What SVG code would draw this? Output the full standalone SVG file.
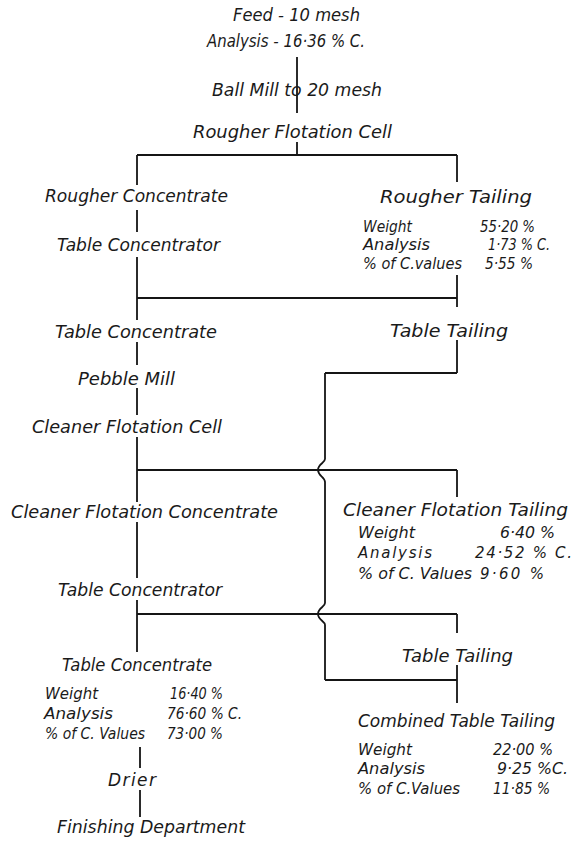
<svg xmlns="http://www.w3.org/2000/svg" width="576" height="841" viewBox="0 0 576 841">
<style>
  .t { font-family: "DejaVu Sans", "Liberation Sans", sans-serif; font-style: italic; font-size: 17px; fill: #1a1a1a; }
  .d { font-family: "DejaVu Sans", "Liberation Sans", sans-serif; font-style: italic; font-size: 15px; fill: #1a1a1a; }
  .c { fill: none; stroke: #151515; stroke-width: 1.8; stroke-linecap: butt; }
</style>
<rect width="576" height="841" fill="#ffffff"/>

<g id="connectors">
  <path class="c" d="M297,57 V113 M297,142 V155"/>
  <path class="c" d="M137,155 H457"/>
  <path class="c" d="M137,155 V185 M137,210 V232 M137,257 V320 M137,342 V365 M137,388 V415 M137,437 V502 M137,522 V578 M137,600 V652"/>
  <path class="c" d="M137,298 H457"/>
  <path class="c" d="M457,155 V182 M457,275 V307 M457,340 V373"/>
  <path class="c" d="M457,373 H325"/>
  <path class="c" d="M325,373 V459 C325,463 318,464 318,470 C318,476 325,477 325,482 V603 C325,607 318,608 318,614 C318,620 325,621 325,625 V680"/>
  <path class="c" d="M137,470 H457 M457,470 V497"/>
  <path class="c" d="M137,614 H457 M457,614 V633 M457,665 V703"/>
  <path class="c" d="M325,680 H457"/>
  <path class="c" d="M140,747 V768 M140,790 V817"/>
</g>

<g id="feed"><text class="t" x="233" y="21" textLength="127" lengthAdjust="spacingAndGlyphs">Feed - 10 mesh</text></g>
<g id="feed-analysis"><text class="t" x="207" y="47" textLength="158" lengthAdjust="spacingAndGlyphs">Analysis - 16·36 % C.</text></g>
<g id="ball-mill"><text class="t" x="212" y="96" textLength="170" lengthAdjust="spacingAndGlyphs">Ball Mill to 20 mesh</text></g>
<g id="rougher-cell"><text class="t" x="193" y="138" textLength="199" lengthAdjust="spacingAndGlyphs">Rougher Flotation Cell</text></g>

<g id="rougher-concentrate"><text class="t" x="45" y="202" textLength="183" lengthAdjust="spacingAndGlyphs">Rougher Concentrate</text></g>
<g id="table-concentrator-1"><text class="t" x="57" y="251" textLength="163" lengthAdjust="spacingAndGlyphs">Table Concentrator</text></g>
<g id="table-concentrate-1"><text class="t" x="55" y="338" textLength="162" lengthAdjust="spacingAndGlyphs">Table Concentrate</text></g>
<g id="pebble-mill"><text class="t" x="78" y="385" textLength="97" lengthAdjust="spacingAndGlyphs">Pebble Mill</text></g>
<g id="cleaner-cell"><text class="t" x="32" y="433" textLength="190" lengthAdjust="spacingAndGlyphs">Cleaner Flotation Cell</text></g>
<g id="cleaner-concentrate"><text class="t" x="11" y="518" textLength="267" lengthAdjust="spacingAndGlyphs">Cleaner Flotation Concentrate</text></g>
<g id="table-concentrator-2"><text class="t" x="58" y="596" textLength="164" lengthAdjust="spacingAndGlyphs">Table Concentrator</text></g>
<g id="table-concentrate-2">
  <text class="t" x="62" y="671" textLength="150" lengthAdjust="spacingAndGlyphs">Table Concentrate</text>
  <text class="d" x="45" y="699" textLength="53" lengthAdjust="spacingAndGlyphs">Weight</text>
  <text class="d" x="170" y="699" textLength="53" lengthAdjust="spacingAndGlyphs">16·40 %</text>
  <text class="d" x="44" y="719" textLength="69" lengthAdjust="spacingAndGlyphs">Analysis</text>
  <text class="d" x="167" y="719" textLength="75" lengthAdjust="spacingAndGlyphs">76·60 % C.</text>
  <text class="d" x="45" y="739" textLength="100" lengthAdjust="spacingAndGlyphs">% of C. Values</text>
  <text class="d" x="167" y="739" textLength="56" lengthAdjust="spacingAndGlyphs">73·00 %</text>
</g>
<g id="drier"><text class="t" x="108" y="786" textLength="48" lengthAdjust="spacing">Drier</text></g>
<g id="finishing"><text class="t" x="57" y="833" textLength="188" lengthAdjust="spacingAndGlyphs">Finishing Department</text></g>

<g id="rougher-tailing">
  <text class="t" x="380" y="203" textLength="152" lengthAdjust="spacingAndGlyphs">Rougher Tailing</text>
  <text class="d" x="363" y="232" textLength="49" lengthAdjust="spacingAndGlyphs">Weight</text>
  <text class="d" x="480" y="232" textLength="55" lengthAdjust="spacingAndGlyphs">55·20 %</text>
  <text class="d" x="363" y="250" textLength="67" lengthAdjust="spacingAndGlyphs">Analysis</text>
  <text class="d" x="488" y="250" textLength="62" lengthAdjust="spacingAndGlyphs">1·73 % C.</text>
  <text class="d" x="363" y="269" textLength="99" lengthAdjust="spacingAndGlyphs">% of C.values</text>
  <text class="d" x="485" y="269" textLength="48" lengthAdjust="spacingAndGlyphs">5·55 %</text>
</g>
<g id="table-tailing-1"><text class="t" x="390" y="337" textLength="118" lengthAdjust="spacingAndGlyphs">Table Tailing</text></g>
<g id="cleaner-tailing">
  <text class="t" x="343" y="516" textLength="225" lengthAdjust="spacingAndGlyphs">Cleaner Flotation Tailing</text>
  <text class="d" x="358" y="538" textLength="57" lengthAdjust="spacingAndGlyphs">Weight</text>
  <text class="d" x="500" y="538" textLength="55" lengthAdjust="spacingAndGlyphs">6·40 %</text>
  <text class="d" x="358" y="558" textLength="74" lengthAdjust="spacing">Analysis</text>
  <text class="d" x="475" y="558" textLength="97" lengthAdjust="spacing">24·52 % C.</text>
  <text class="d" x="358" y="579" textLength="114" lengthAdjust="spacingAndGlyphs">% of C. Values</text>
  <text class="d" x="480" y="579" textLength="64" lengthAdjust="spacing">9·60 %</text>
</g>
<g id="table-tailing-2"><text class="t" x="402" y="662" textLength="111" lengthAdjust="spacingAndGlyphs">Table Tailing</text></g>
<g id="combined-tailing">
  <text class="t" x="358" y="727" textLength="197" lengthAdjust="spacingAndGlyphs">Combined Table Tailing</text>
  <text class="d" x="358" y="755" textLength="54" lengthAdjust="spacingAndGlyphs">Weight</text>
  <text class="d" x="493" y="755" textLength="60" lengthAdjust="spacingAndGlyphs">22·00 %</text>
  <text class="d" x="358" y="774" textLength="67" lengthAdjust="spacingAndGlyphs">Analysis</text>
  <text class="d" x="497" y="774" textLength="71" lengthAdjust="spacingAndGlyphs">9·25 %C.</text>
  <text class="d" x="358" y="794" textLength="102" lengthAdjust="spacingAndGlyphs">% of C.Values</text>
  <text class="d" x="493" y="794" textLength="57" lengthAdjust="spacingAndGlyphs">11·85 %</text>
</g>
</svg>
